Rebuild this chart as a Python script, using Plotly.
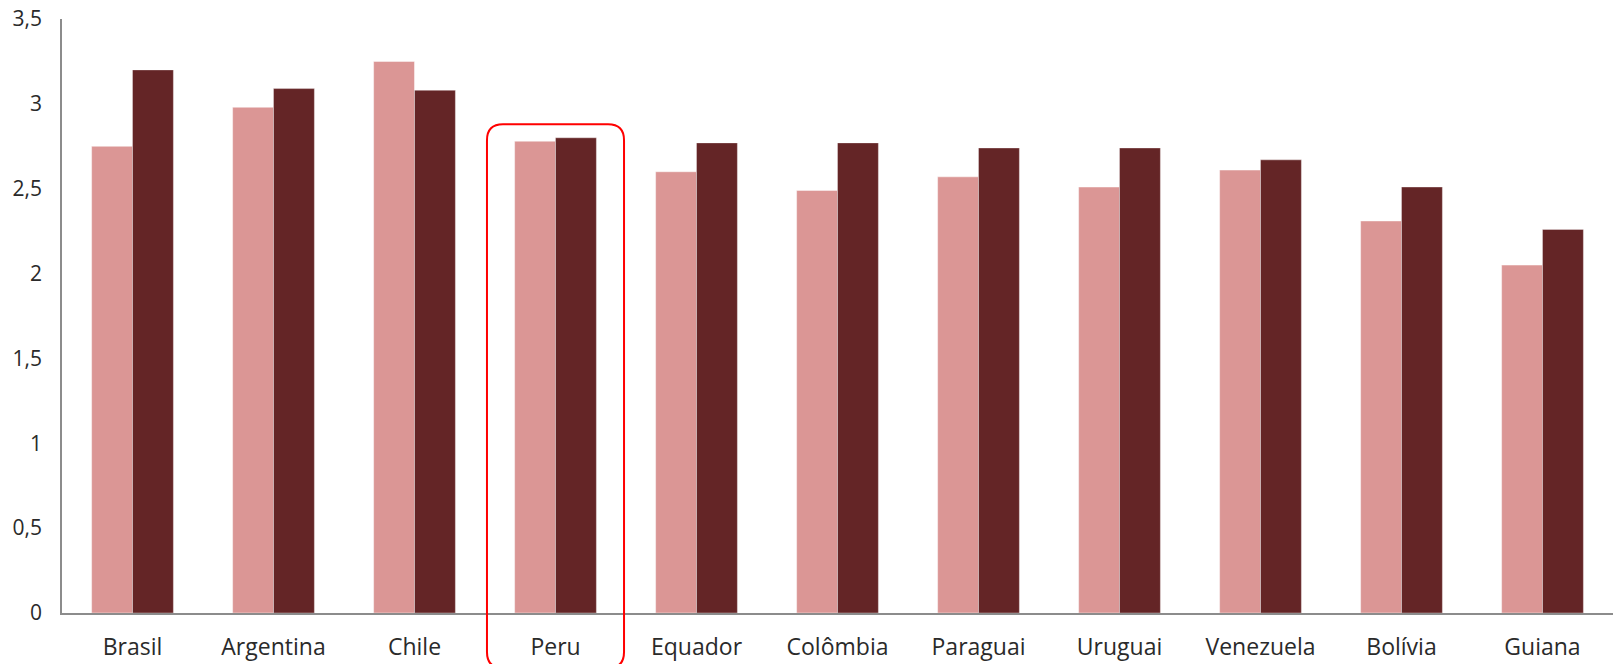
import plotly.graph_objects as go

categories = ["Brasil", "Argentina", "Chile", "Peru", "Equador", "Colômbia",
              "Paraguai", "Uruguai", "Venezuela", "Bolívia", "Guiana"]
series_a = [2.75, 2.98, 3.25, 2.78, 2.60, 2.49, 2.57, 2.51, 2.61, 2.31, 2.05]
series_b = [3.20, 3.09, 3.08, 2.80, 2.77, 2.77, 2.74, 2.74, 2.67, 2.51, 2.26]
y_ticks = [0, 0.5, 1, 1.5, 2, 2.5, 3, 3.5]
highlight = "Peru"

W, H = 1617, 664
ML, MR, MT, MB = 62, 4, 19, 51
YMAX = 3.5

idx = list(range(len(categories)))

fig = go.Figure()
fig.add_trace(go.Bar(x=idx, y=series_a, marker=dict(color="#DB9695",
                     line=dict(color="rgba(255,255,255,0.45)", width=1)),
                     showlegend=False, hoverinfo="y"))
fig.add_trace(go.Bar(x=idx, y=series_b, marker=dict(color="#642526",
                     line=dict(color="rgba(255,255,255,0.35)", width=1)),
                     showlegend=False, hoverinfo="y"))

# rounded highlight box around the highlighted category (paper coords)
pw = W - ML - MR
ph = H - MT - MB
n = len(categories)
hi = categories.index(highlight)
cx = (hi + 0.5) / n
half = 0.486 / n
x0, x1 = cx - half, cx + half
ytop = (max(series_a[hi], series_b[hi]) + 0.08) / YMAX
ybot = -(668 - (H - MB)) / ph
rx = 16 / pw
ry = 16 / ph
path = (f"M {x0+rx} {ytop} L {x1-rx} {ytop} Q {x1} {ytop} {x1} {ytop-ry} "
        f"L {x1} {ybot+ry} Q {x1} {ybot} {x1-rx} {ybot} "
        f"L {x0+rx} {ybot} Q {x0} {ybot} {x0} {ybot+ry} "
        f"L {x0} {ytop-ry} Q {x0} {ytop} {x0+rx} {ytop} Z")
fig.add_shape(type="path", path=path, xref="paper", yref="paper",
              line=dict(color="#FF0000", width=2), layer="above")

fig.update_layout(
    width=W, height=H,
    margin=dict(l=ML, r=MR, t=MT, b=MB, autoexpand=False),
    paper_bgcolor="white", plot_bgcolor="white",
    barmode="group", bargap=0.42, bargroupgap=0,
    separators=", ",
    font=dict(family="Open Sans, Noto Sans, sans-serif", size=22, color="#2a2a2a"),
    xaxis=dict(tickmode="array", tickvals=idx, ticktext=categories,
               range=[-0.5, n - 0.5], showgrid=False, zeroline=False,
               showline=True, linecolor="#8c8c8c", linewidth=1.5,
               ticks="outside", ticklen=13, tickcolor="rgba(0,0,0,0)",
               tickfont=dict(size=23), automargin=False),
    yaxis=dict(range=[0, YMAX], tickmode="array", tickvals=y_ticks,
               showgrid=False, zeroline=False, showline=True,
               linecolor="#8c8c8c", linewidth=1.5,
               ticks="outside", ticklen=14, tickcolor="rgba(0,0,0,0)",
               tickfont=dict(size=21), automargin=False),
)

fig.write_html("out.html")
